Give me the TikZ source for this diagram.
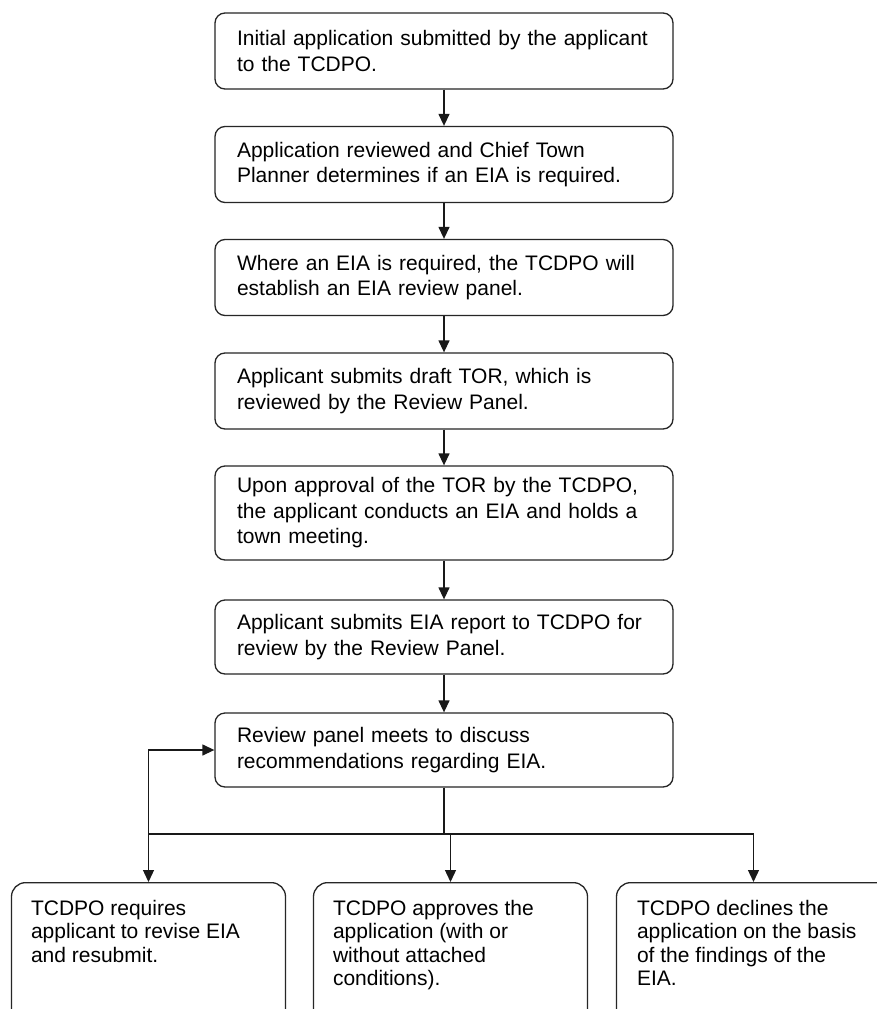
\documentclass[tikz,border=0pt]{standalone}
\usepackage{fontspec}
\setmainfont{Liberation Sans}
\usetikzlibrary{arrows.meta}
\begin{document}
\begin{tikzpicture}[x=1pt,y=-1pt,
 box/.style={draw=black!85, line width=1.3pt, rounded corners=10pt, minimum width=458pt, text width=414pt, inner xsep=22pt, align=left, minimum height=76pt, font=\fontsize{21}{25.5}\selectfont},
 bbox/.style={draw=black!85, line width=1.3pt, rounded corners=14pt, minimum width=274pt, minimum height=200pt, anchor=north},
 btext/.style={anchor=north west, align=left, inner sep=0pt, font=\fontsize{21}{23.5}\selectfont},
 arr/.style={-{Triangle[length=12pt,width=11pt]}, line width=1.3pt, draw=black!90},
 ln/.style={line width=1.3pt, draw=black!90}]
\clip (0,0) rectangle (877,1009);
\fill[white] (0,0) rectangle (877,1009);
\node[box] (n1) at (444,51) {Initial application submitted by the applicant\\to the TCDPO.};
\node[box] (n2) at (444,164.5) {Application reviewed and Chief Town\\Planner determines if an EIA is required.};
\node[box] (n3) at (444,277.5) {Where an EIA is required, the TCDPO will\\establish an EIA review panel.};
\node[box] (n4) at (444,391) {Applicant submits draft TOR, which is\\reviewed by the Review Panel.};
\node[box, minimum height=94pt] (n5) at (444,513) {Upon approval of the TOR by the TCDPO,\\the applicant conducts an EIA and holds a\\town meeting.};
\node[box, minimum height=74pt] (n6) at (444,637) {Applicant submits EIA report to TCDPO for\\review by the Review Panel.};
\node[box, minimum height=74pt] (n7) at (444,750) {Review panel meets to discuss\\recommendations regarding EIA.};
\node[bbox] (b1) at (148.5,882) {};
\node[bbox] (b2) at (450.5,882) {};
\node[bbox] (b3) at (753.5,882) {};
\node[btext] (t1) at ([xshift=20pt,yshift=-18pt]b1.north west) {TCDPO requires\\applicant to revise EIA\\and resubmit.};
\node[btext] (t2) at ([xshift=20pt,yshift=-18pt]b2.north west) {TCDPO approves the\\application (with or\\without attached\\conditions).};
\node[btext] (t3) at ([xshift=21pt,yshift=-18pt]b3.north west) {TCDPO declines the\\application on the basis\\of the findings of the\\EIA.};
\draw[arr] (n1) -- (n2);
\draw[arr] (n2) -- (n3);
\draw[arr] (n3) -- (n4);
\draw[arr] (n4) -- (n5);
\draw[arr] (n5) -- (n6);
\draw[arr] (n6) -- (n7);
\coordinate (split) at (444,834);
\draw[ln] (n7.south) -- (split);
\draw[ln] (b1.north |- split) -- (b3.north |- split);
\draw[arr] (b1.north |- split) -- (b1.north);
\draw[arr] (b2.north |- split) -- (b2.north);
\draw[arr] (b3.north |- split) -- (b3.north);
\draw[arr] (b1.north |- split) -- (b1.north |- n7.west) -- (n7.west);
\end{tikzpicture}
\end{document}
